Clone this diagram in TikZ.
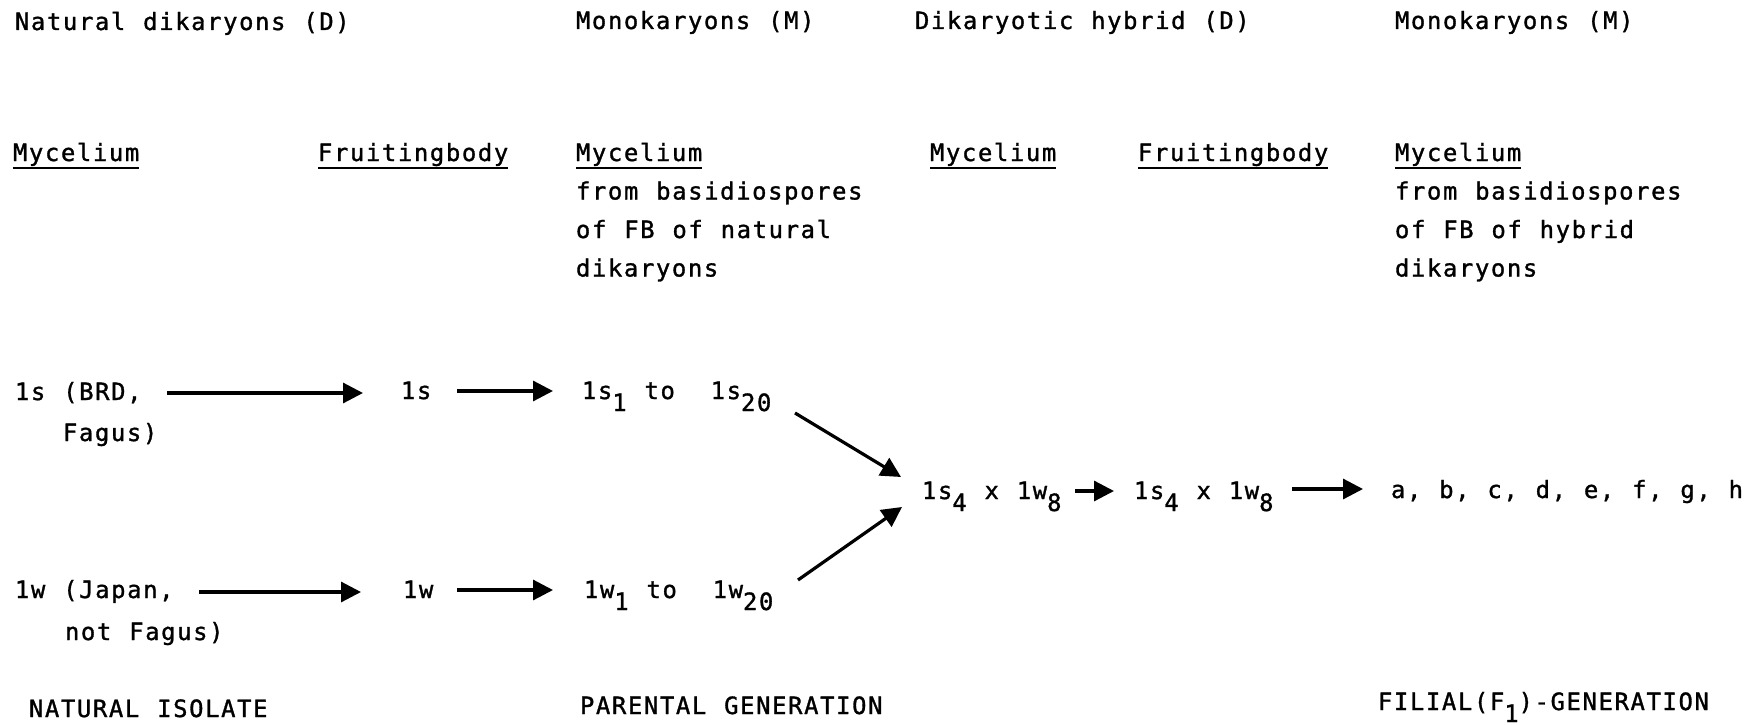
\documentclass[tikz,border=0pt]{standalone}
\usepackage{fontspec}
\usetikzlibrary{arrows.meta}
\newfontfamily\tw{DejaVu Sans Mono}[LetterSpace=7,WordSpace={1.12,0,0},FakeBold=1.3]
\newcommand\dn[1]{\raisebox{-12pt}{#1}}
\begin{document}
\begin{tikzpicture}[x=1pt,y=-1pt,
  txt/.style={inner sep=0pt,outer sep=0pt,anchor=base west,font=\tw\fontsize{23.8pt}{28pt}\selectfont},
  arr/.style={line width=3.2pt,-{Triangle[length=20pt,width=20pt]}},
  ul/.style={line width=2.2pt}]
\fill[white] (0,0) rectangle (1758,725);
\useasboundingbox (0,0) rectangle (1758,725);
% headers
\node[txt] (h1) at (15,30) {Natural dikaryons (D)};
\node[txt] (h2) at (576,29) {Monokaryons (M)};
\node[txt] (h3) at (915,29) {Dikaryotic hybrid (D)};
\node[txt] (h4) at (1395,29) {Monokaryons (M)};
% column titles
\node[txt] (m1) at (13,161) {Mycelium};
\node[txt] (f1) at (318,161) {Fruitingbody};
\node[txt] (m2) at (576,161) {Mycelium};
\node[txt] (m3) at (930,161) {Mycelium};
\node[txt] (f2) at (1138,161) {Fruitingbody};
\node[txt] (m4) at (1395,161) {Mycelium};
\foreach \n in {m1,f1,m2,m3,f2,m4}
  \draw[ul] ([yshift=-7pt]\n.base west) -- ([yshift=-7pt]\n.base east);
\node[txt] (c3a) at (576,199.5) {from basidiospores};
\node[txt] (c3b) at (576,238) {of FB of natural};
\node[txt] (c3c) at (576,276.5) {dikaryons};
\node[txt] (c6a) at (1395,199.5) {from basidiospores};
\node[txt] (c6b) at (1395,238) {of FB of hybrid};
\node[txt] (c6c) at (1395,276.5) {dikaryons};
% body
\node[txt] (s0) at (15,400) {1s (BRD,};
\node[txt] (s0b) at (63,441) {Fagus)};
\node[txt] (w0) at (15,598) {1w (Japan,};
\node[txt] (w0b) at (65,640) {not Fagus)};
\node[txt] (s1) at (401,399) {1s};
\node[txt] (w1) at (403,598) {1w};
\node[txt] (s2) at (582,399) {1s\dn{1} to~~1s\dn{20}};
\node[txt] (w2) at (584,598) {1w\dn{1} to~~1w\dn{20}};
\node[txt] (x1) at (922,499) {1s\dn{4} x 1w\dn{8}};
\node[txt] (x2) at (1134,499) {1s\dn{4} x 1w\dn{8}};
\node[txt] (fl) at (1391,498) {a, b, c, d, e, f, g, h};
% bottom
\node[txt] (b1) at (29,717) {NATURAL ISOLATE};
\node[txt] (b2) at (580,714) {PARENTAL GENERATION};
\node[txt] (b3) at (1378,710) {FILIAL(F\dn{1})-GENERATION};
% arrows
\draw[arr] ([shift={(152pt,7pt)}]s0.base west) -- ([shift={(-38pt,6pt)}]s1.base west);
\draw[arr] ([shift={(56pt,8pt)}]s1.base west) -- ([shift={(-29pt,8pt)}]s2.base west);
\draw[arr] ([shift={(184pt,6pt)}]w0.base west) -- ([shift={(-42pt,6pt)}]w1.base west);
\draw[arr] ([shift={(54pt,8pt)}]w1.base west) -- ([shift={(-31pt,8pt)}]w2.base west);
\draw[arr] ([shift={(213pt,-14pt)}]s2.base west) -- ([shift={(-21pt,22pt)}]x1.base west);
\draw[arr] ([shift={(214pt,18pt)}]w2.base west) -- ([shift={(-20pt,-8pt)}]x1.base west);
\draw[arr] ([shift={(153pt,8pt)}]x1.base west) -- ([shift={(-20pt,8pt)}]x2.base west);
\draw[arr] ([shift={(158pt,10pt)}]x2.base west) -- ([shift={(-28pt,9pt)}]fl.base west);
\end{tikzpicture}
\end{document}
